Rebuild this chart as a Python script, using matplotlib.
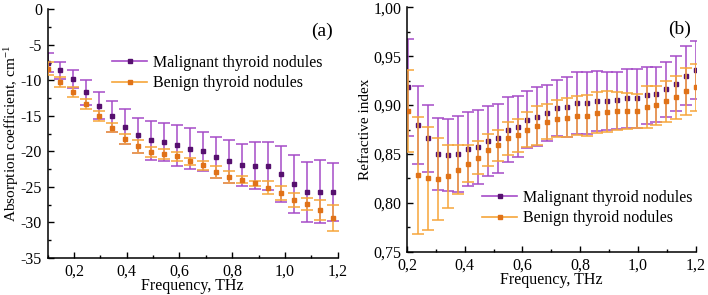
import matplotlib
matplotlib.use("Agg")
import matplotlib.pyplot as plt
from matplotlib.lines import Line2D
from matplotlib.ticker import MultipleLocator, FuncFormatter

plt.rcParams['font.family'] = ['Liberation Serif', 'DejaVu Serif']
plt.rcParams['mathtext.fontset'] = 'stix'
plt.rcParams['axes.unicode_minus'] = False

# ---------------- data: panel (a) absorption coefficient ----------------
freq_a = [0.100, 0.149, 0.198, 0.247, 0.296, 0.346, 0.395, 0.444, 0.493, 0.542,
          0.592, 0.641, 0.690, 0.739, 0.788, 0.837, 0.887, 0.936, 0.985, 1.034,
          1.083, 1.133, 1.182]
abs_malig = [-7.5, -8.6, -9.85, -11.7, -13.55, -15.05, -16.55, -17.75, -18.45, -18.7,
             -19.15, -19.6, -20.0, -20.85, -21.4, -21.85, -22.0, -22.05, -23.15, -24.6,
             -25.7, -25.65, -25.75]
abs_malig_err = [1.3, 1.2, 1.25, 1.7, 1.85, 2.15, 2.45, 2.45, 2.75, 2.7,
                 2.85, 2.9, 2.7, 2.85, 3.0, 2.95, 3.35, 3.4, 3.95, 4.1,
                 4.2, 4.45, 4.1]
abs_benign = [-8.35, -10.25, -11.65, -13.35, -15.0, -16.65, -18.25, -19.3, -20.1, -20.35,
              -20.7, -21.4, -21.95, -22.85, -23.55, -24.0, -24.5, -25.1, -25.85, -26.8,
              -27.4, -28.3, -29.35]
abs_benign_err = [0.95, 0.75, 0.65, 0.7, 0.7, 0.65, 0.75, 0.9, 0.7, 0.75,
                  0.6, 0.5, 0.65, 0.85, 0.85, 0.5, 0.3, 0.9, 0.95, 1.0,
                  0.9, 1.4, 1.8]

# ---------------- data: panel (b) refractive index ----------------
freq_b = [0.205, 0.239, 0.273, 0.308, 0.342, 0.377, 0.411, 0.446, 0.480, 0.515,
          0.549, 0.583, 0.617, 0.652, 0.686, 0.720, 0.755, 0.789, 0.823, 0.858,
          0.892, 0.926, 0.961, 0.995, 1.030, 1.064, 1.098, 1.133, 1.167, 1.200]
n_malig = [0.918, 0.880, 0.866, 0.850, 0.849, 0.850, 0.855, 0.857, 0.863, 0.866,
           0.875, 0.878, 0.885, 0.888, 0.892, 0.897, 0.898, 0.902, 0.902, 0.904,
           0.904, 0.905, 0.907, 0.907, 0.910, 0.911, 0.916, 0.922, 0.930, 0.936]
n_malig_err = [0.050, 0.040, 0.034, 0.037, 0.037, 0.039, 0.038, 0.038, 0.036, 0.035,
               0.033, 0.031, 0.029, 0.030, 0.029, 0.029, 0.031, 0.032, 0.032, 0.031,
               0.030, 0.029, 0.030, 0.030, 0.029, 0.028, 0.028, 0.028, 0.030, 0.030]
n_benign = [0.894, 0.828, 0.825, 0.824, 0.827, 0.834, 0.840, 0.846, 0.854, 0.859,
            0.866, 0.869, 0.875, 0.879, 0.883, 0.886, 0.887, 0.889, 0.889, 0.892,
            0.893, 0.894, 0.894, 0.894, 0.898, 0.900, 0.904, 0.908, 0.914, 0.918]
n_benign_err = [0.042, 0.060, 0.053, 0.042, 0.032, 0.025, 0.019, 0.017, 0.016, 0.016,
                0.017, 0.017, 0.018, 0.020, 0.018, 0.019, 0.020, 0.020, 0.021, 0.021,
                0.021, 0.019, 0.018, 0.017, 0.021, 0.020, 0.021, 0.022, 0.024, 0.024]

labels = ["Malignant thyroid nodules", "Benign thyroid nodules"]

C_M_BAR = '#a54bc8'
C_M_MK = '#56106f'
C_B_BAR = '#f6a53a'
C_B_MK = '#e07218'

FS = 11.5
MS = 2.7

fig = plt.figure(figsize=(7.08, 2.95), dpi=100)
W, H = 708, 295

def make_ax(l, r, t, b):
    return fig.add_axes([l / W, 1 - b / H, (r - l) / W, (b - t) / H])

ax1 = make_ax(47.5, 337.7, 9.3, 258.0)
ax2 = make_ax(407.0, 695.7, 7.3, 251.7)

def style(ax):
    for s in ('top', 'right'):
        ax.spines[s].set_visible(False)
    for s in ('left', 'bottom'):
        ax.spines[s].set_linewidth(1.1)
    ax.tick_params(which='both', direction='in', labelsize=FS, width=1.0, pad=4)
    ax.tick_params(which='major', length=4.5)
    ax.tick_params(which='minor', length=2.5)

def comma(fmt):
    return FuncFormatter(lambda v, p: (fmt % v).replace('.', ','))

def draw(ax, x, m, me, b, be):
    ax.errorbar(x, m, yerr=me, fmt='s', ms=MS, color=C_M_MK, mfc=C_M_MK, mec=C_M_MK,
                ecolor=C_M_BAR, elinewidth=1.1, capsize=4.2, capthick=1.1, zorder=2)
    ax.errorbar(x, b, yerr=be, fmt='s', ms=MS, color=C_B_MK, mfc=C_B_MK, mec=C_B_MK,
                ecolor=C_B_BAR, elinewidth=1.1, capsize=4.2, capthick=1.1, zorder=3)

handles = [Line2D([], [], color=C_M_BAR, lw=1.2, marker='s', ms=MS, mfc=C_M_MK, mec=C_M_MK),
           Line2D([], [], color=C_B_BAR, lw=1.2, marker='s', ms=MS, mfc=C_B_MK, mec=C_B_MK)]

# panel (a)
draw(ax1, freq_a, abs_malig, abs_malig_err, abs_benign, abs_benign_err)
ax1.set_xlim(0.1, 1.2)
ax1.set_ylim(-35, 0)
style(ax1)
ax1.xaxis.set_major_locator(MultipleLocator(0.2))
ax1.xaxis.set_minor_locator(MultipleLocator(0.1))
ax1.yaxis.set_major_locator(MultipleLocator(5))
ax1.yaxis.set_minor_locator(MultipleLocator(2.5))
ax1.xaxis.set_major_formatter(comma('%.1f'))
ax1.yaxis.set_major_formatter(FuncFormatter(lambda v, p: '%d' % round(v)))
ax1.set_xlabel('Frequency, THz', fontsize=FS, labelpad=-1)
ax1.set_ylabel(r'Absorption coefficient, cm$^{\mathregular{-1}}$', fontsize=11, labelpad=0)
ax1.text(0.985, 0.91, '(a)', transform=ax1.transAxes, ha='right', va='center', fontsize=14)
ax1.legend(handles, labels, loc='center left', bbox_to_anchor=(112 / W, 1 - 73 / H),
           bbox_transform=fig.transFigure, frameon=False, fontsize=FS,
           handlelength=2.2, handletextpad=0.35, labelspacing=0.3, borderpad=0,
           borderaxespad=0)

# panel (b)
draw(ax2, freq_b, n_malig, n_malig_err, n_benign, n_benign_err)
ax2.set_xlim(0.2, 1.2)
ax2.set_ylim(0.75, 1.00)
style(ax2)
ax2.xaxis.set_major_locator(MultipleLocator(0.2))
ax2.xaxis.set_minor_locator(MultipleLocator(0.1))
ax2.yaxis.set_major_locator(MultipleLocator(0.05))
ax2.yaxis.set_minor_locator(MultipleLocator(0.025))
ax2.xaxis.set_major_formatter(comma('%.1f'))
ax2.yaxis.set_major_formatter(comma('%.2f'))
ax2.set_xlabel('Frequency, THz', fontsize=FS, labelpad=-1)
ax2.set_ylabel('Refractive index', fontsize=11, labelpad=1)
ax2.text(0.985, 0.91, '(b)', transform=ax2.transAxes, ha='right', va='center', fontsize=14)
ax2.legend(handles, labels, loc='center left', bbox_to_anchor=(482 / W, 1 - 208 / H),
           bbox_transform=fig.transFigure, frameon=False, fontsize=FS,
           handlelength=2.2, handletextpad=0.35, labelspacing=0.3, borderpad=0,
           borderaxespad=0)

fig.savefig('out.png', dpi=100)
